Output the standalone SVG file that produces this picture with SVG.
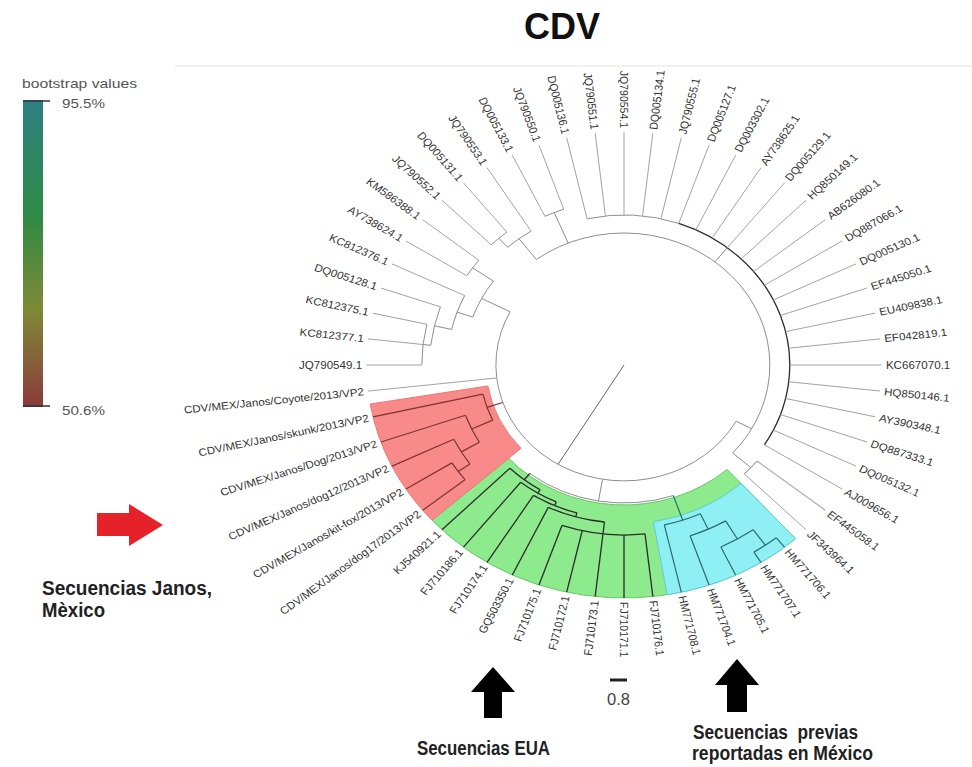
<svg xmlns="http://www.w3.org/2000/svg" width="972" height="767" viewBox="0 0 972 767">
<defs>
<linearGradient id="bs" x1="0" y1="0" x2="0" y2="1">
<stop offset="0" stop-color="#2e7f80"/>
<stop offset="0.38" stop-color="#2f8a45"/>
<stop offset="0.68" stop-color="#7e8a36"/>
<stop offset="1" stop-color="#8c3a3c"/>
</linearGradient>
<style>
.l{fill:none;stroke:#a3a3a3;stroke-width:1;vector-effect:non-scaling-stroke}
.g{stroke:#8e8e8e}
.k{stroke:#2b2b2b;stroke-width:1.3}
.m{stroke:#7b3434;stroke-width:1.2}
.q{stroke:#2d6a6c;stroke-width:1.2}
.t{font-family:"Liberation Sans",Arial,sans-serif;font-size:10.5px;fill:#333}
.e{text-anchor:end}
.b{font-family:"Liberation Sans",Arial,sans-serif;font-weight:bold;fill:#222}
.lg{font-family:"Liberation Sans",Arial,sans-serif;font-size:13px;fill:#555}
</style>
</defs>
<rect width="972" height="767" fill="#fff"/>
<line x1="175" y1="66" x2="972" y2="66" stroke="#ececec" stroke-width="1.5"/>
<g id="title"><text x="524" y="39" style="font-family:'Liberation Sans',Arial,sans-serif;font-weight:bold;font-size:36px;fill:#111">CDV</text></g>

<g id="legend">
<text class="lg" x="22" y="88" textLength="115" lengthAdjust="spacingAndGlyphs">bootstrap values</text>
<rect x="23" y="100" width="20" height="307" fill="url(#bs)"/>
<line x1="23" y1="101" x2="50" y2="101" stroke="#333" stroke-width="1.5"/>
<line x1="23" y1="406" x2="50" y2="406" stroke="#333" stroke-width="1.5"/>
<text class="lg" x="62" y="108" textLength="43" lengthAdjust="spacingAndGlyphs">95.5%</text>
<text class="lg" x="62" y="415" textLength="43" lengthAdjust="spacingAndGlyphs">50.6%</text>
</g>

<g id="tree" transform="translate(624,365) scale(1.105,1)">
<g id="sectors">
<path transform="rotate(48.21)" d="M140 0 L233 0 A233 233 0 0 1 0 233 L0 140 A140 140 0 0 0 140 0 Z" fill="#8deb8d" stroke="#63c963" stroke-width="1" vector-effect="non-scaling-stroke"/>
<path transform="rotate(48.21)" d="M159 0 L233 0 A233 233 0 0 1 197.29 123.96 L134.63 84.59 A159 159 0 0 0 159 0 Z" fill="#8ef0f5" stroke="#5ccbd2" stroke-width="1" vector-effect="non-scaling-stroke"/>
<path transform="rotate(138.21)" d="M125 0 L233 0 A233 233 0 0 1 197.29 123.96 L105.84 66.50 A125 125 0 0 0 125 0 Z" fill="#f88a8a" stroke="#ee7777" stroke-width="1" vector-effect="non-scaling-stroke"/>
</g>
<g id="connectors">
<line class="l" x1="0" x2="116" transform="rotate(121)" style="stroke:#666"/>
<path class="l g" transform="rotate(28.93)" d="M116 0 A116 116 0 0 1 -115.95 3.26"/>
<line class="l g" x1="116" x2="132" transform="rotate(28.93)"/>
<path class="l g" transform="rotate(233.04)" d="M132 0 A132 132 0 0 1 -129.46 25.75"/>
<line class="l g" x1="132" x2="150" transform="rotate(308.57)"/>
<path class="l g" transform="rotate(257.14)" d="M150 0 A150 150 0 0 1 127.01 79.80"/>
<path class="l k" transform="rotate(289.29)" d="M150 0 A150 150 0 0 1 -33.38 146.24"/>
<line class="l g" x1="132" x2="154" transform="rotate(41.79)"/>
<path class="l g" transform="rotate(38.57)" d="M154 0 A154 154 0 0 1 153.03 17.24"/>
<line class="l g" x1="132" x2="165" transform="rotate(247.5)"/>
<path class="l g" transform="rotate(244.29)" d="M165 0 A165 165 0 0 1 163.96 18.47"/>
<line class="l g" x1="132" x2="158" transform="rotate(233.04)"/>
<path class="l g" transform="rotate(228.21)" d="M158 0 A158 158 0 0 1 155.77 26.47"/>
<line class="l g" x1="158" x2="170" transform="rotate(228.21)"/>
<path class="l g" transform="rotate(225)" d="M170 0 A170 170 0 0 1 168.93 19.03"/>
<line class="l g" x1="116" x2="145" transform="rotate(207.32)"/>
<path class="l g" transform="rotate(199.29)" d="M145 0 A145 145 0 0 1 139.33 40.14"/>
<line class="l g" x1="145" x2="168" transform="rotate(215.36)"/>
<path class="l g" transform="rotate(212.14)" d="M168 0 A168 168 0 0 1 166.94 18.81"/>
<line class="l g" x1="145" x2="160" transform="rotate(199.29)"/>
<path class="l g" transform="rotate(192.86)" d="M160 0 A160 160 0 0 1 155.99 35.60"/>
<line class="l g" x1="160" x2="176" transform="rotate(192.86)"/>
<path class="l g" transform="rotate(186.43)" d="M176 0 A176 176 0 0 1 171.59 39.16"/>
<line class="l g" x1="176" x2="183" transform="rotate(186.43)"/>
<path class="l g" transform="rotate(180)" d="M183 0 A183 183 0 0 1 178.41 40.72"/>
<line class="l m" x1="116" x2="131" transform="rotate(161.12)"/>
<path class="l m" transform="rotate(155.09)" d="M131 0 A131 131 0 0 1 128.11 27.35"/>
<line class="l m" x1="131" x2="152" transform="rotate(155.09)"/>
<path class="l m" transform="rotate(149.46)" d="M152 0 A152 152 0 0 1 149.08 29.65"/>
<line class="l m" x1="152" x2="171" transform="rotate(149.46)"/>
<path class="l m" transform="rotate(144.64)" d="M171 0 A171 171 0 0 1 168.58 28.65"/>
<line class="l m" x1="171" x2="184" transform="rotate(144.64)"/>
<path class="l m" transform="rotate(141.43)" d="M184 0 A184 184 0 0 1 182.84 20.60"/>
<line class="l g" x1="116" x2="138" transform="rotate(99.64)"/>
<path class="l g" transform="rotate(71.11)" d="M138 0 A138 138 0 0 1 75.04 115.82"/>
<line class="l q" x1="138" x2="164" transform="rotate(71.11)"/>
<path class="l q" transform="rotate(65.09)" d="M164 0 A164 164 0 0 1 160.39 34.24"/>
<line class="l q" x1="164" x2="181" transform="rotate(65.09)"/>
<path class="l q" transform="rotate(59.46)" d="M181 0 A181 181 0 0 1 177.52 35.31"/>
<line class="l q" x1="181" x2="202" transform="rotate(59.46)"/>
<path class="l q" transform="rotate(54.64)" d="M202 0 A202 202 0 0 1 199.15 33.84"/>
<line class="l q" x1="202" x2="221" transform="rotate(54.64)"/>
<path class="l q" transform="rotate(51.43)" d="M221 0 A221 221 0 0 1 219.61 24.74"/>
<line class="l k" x1="138" x2="146" transform="rotate(128.17)"/>
<path class="l k" transform="rotate(121.34)" d="M146 0 A146 146 0 0 1 141.87 34.48"/>
<line class="l k" x1="146" x2="150" transform="rotate(121.34)"/>
<path class="l k" transform="rotate(114.1)" d="M150 0 A150 150 0 0 1 145.24 37.48"/>
<line class="l k" x1="150" x2="154" transform="rotate(114.1)"/>
<path class="l k" transform="rotate(106.07)" d="M154 0 A154 154 0 0 1 147.98 42.63"/>
<line class="l k" x1="154" x2="158" transform="rotate(106.07)"/>
<path class="l k" transform="rotate(96.43)" d="M158 0 A158 158 0 0 1 149.13 52.18"/>
<line class="l k" x1="158" x2="170" transform="rotate(96.43)"/>
<path class="l k" transform="rotate(83.57)" d="M170 0 A170 170 0 0 1 153.16 73.76"/>
<!-- leaf lines -->
<line class="l" x1="183" x2="233" transform="rotate(180)"/>
<line class="l" x1="183" x2="233" transform="rotate(186.43)"/>
<line class="l" x1="183" x2="233" transform="rotate(192.86)"/>
<line class="l" x1="176" x2="233" transform="rotate(199.29)"/>
<line class="l" x1="160" x2="233" transform="rotate(205.71)"/>
<line class="l" x1="168" x2="233" transform="rotate(212.14)"/>
<line class="l" x1="168" x2="233" transform="rotate(218.57)"/>
<line class="l" x1="170" x2="233" transform="rotate(225)"/>
<line class="l" x1="170" x2="233" transform="rotate(231.43)"/>
<line class="l" x1="158" x2="233" transform="rotate(237.86)"/>
<line class="l" x1="165" x2="233" transform="rotate(244.29)"/>
<line class="l" x1="165" x2="233" transform="rotate(250.71)"/>
<line class="l" x1="150" x2="233" transform="rotate(257.14)"/>
<line class="l" x1="150" x2="233" transform="rotate(263.57)"/>
<line class="l" x1="150" x2="233" transform="rotate(270)"/>
<line class="l" x1="150" x2="233" transform="rotate(276.43)"/>
<line class="l" x1="150" x2="233" transform="rotate(282.86)"/>
<line class="l" x1="150" x2="233" transform="rotate(289.29)"/>
<line class="l" x1="150" x2="233" transform="rotate(295.71)"/>
<line class="l" x1="150" x2="233" transform="rotate(302.14)"/>
<line class="l" x1="150" x2="233" transform="rotate(308.57)"/>
<line class="l" x1="150" x2="233" transform="rotate(315)"/>
<line class="l" x1="150" x2="233" transform="rotate(321.43)"/>
<line class="l" x1="150" x2="233" transform="rotate(327.86)"/>
<line class="l" x1="150" x2="233" transform="rotate(334.29)"/>
<line class="l" x1="150" x2="233" transform="rotate(340.71)"/>
<line class="l" x1="150" x2="233" transform="rotate(347.14)"/>
<line class="l" x1="150" x2="233" transform="rotate(353.57)"/>
<line class="l" x1="150" x2="233" transform="rotate(0)"/>
<line class="l" x1="150" x2="233" transform="rotate(6.43)"/>
<line class="l" x1="150" x2="233" transform="rotate(12.86)"/>
<line class="l" x1="150" x2="233" transform="rotate(19.29)"/>
<line class="l" x1="150" x2="233" transform="rotate(25.71)"/>
<line class="l" x1="150" x2="233" transform="rotate(32.14)"/>
<line class="l" x1="154" x2="233" transform="rotate(38.57)"/>
<line class="l" x1="154" x2="233" transform="rotate(45)"/>
<line class="l q" x1="221" x2="233" transform="rotate(51.43)"/>
<line class="l q" x1="221" x2="233" transform="rotate(57.86)"/>
<line class="l q" x1="202" x2="233" transform="rotate(64.29)"/>
<line class="l q" x1="181" x2="233" transform="rotate(70.71)"/>
<line class="l q" x1="164" x2="233" transform="rotate(77.14)"/>
<line class="l k" x1="170" x2="233" transform="rotate(83.57)"/>
<line class="l k" x1="170" x2="233" transform="rotate(90)"/>
<line class="l k" x1="170" x2="233" transform="rotate(96.43)"/>
<line class="l k" x1="170" x2="233" transform="rotate(102.86)"/>
<line class="l k" x1="170" x2="233" transform="rotate(109.29)"/>
<line class="l k" x1="158" x2="233" transform="rotate(115.71)"/>
<line class="l k" x1="154" x2="233" transform="rotate(122.14)"/>
<line class="l k" x1="150" x2="233" transform="rotate(128.57)"/>
<line class="l k" x1="146" x2="233" transform="rotate(135)"/>
<line class="l m" x1="184" x2="233" transform="rotate(141.43)"/>
<line class="l m" x1="184" x2="233" transform="rotate(147.86)"/>
<line class="l m" x1="171" x2="233" transform="rotate(154.29)"/>
<line class="l m" x1="152" x2="233" transform="rotate(160.71)"/>
<line class="l m" x1="131" x2="233" transform="rotate(167.14)"/>
<line class="l" x1="116" x2="233" transform="rotate(173.57)"/>
</g>
<g id="leaves">
<g id="leaf-1"><text class="t e" dy="0.35em" transform="rotate(180) translate(237 0) rotate(180)">JQ790549.1</text></g>
<g id="leaf-2"><text class="t e" dy="0.35em" transform="rotate(186.43) translate(237 0) rotate(180)">KC812377.1</text></g>
<g id="leaf-3"><text class="t e" dy="0.35em" transform="rotate(192.86) translate(237 0) rotate(180)">KC812375.1</text></g>
<g id="leaf-4"><text class="t e" dy="0.35em" transform="rotate(199.29) translate(237 0) rotate(180)">DQ005128.1</text></g>
<g id="leaf-5"><text class="t e" dy="0.35em" transform="rotate(205.71) translate(237 0) rotate(180)">KC812376.1</text></g>
<g id="leaf-6"><text class="t e" dy="0.35em" transform="rotate(212.14) translate(237 0) rotate(180)">AY738624.1</text></g>
<g id="leaf-7"><text class="t e" dy="0.35em" transform="rotate(218.57) translate(237 0) rotate(180)">KM586388.1</text></g>
<g id="leaf-8"><text class="t e" dy="0.35em" transform="rotate(225) translate(237 0) rotate(180)">JQ790552.1</text></g>
<g id="leaf-9"><text class="t e" dy="0.35em" transform="rotate(231.43) translate(237 0) rotate(180)">DQ005131.1</text></g>
<g id="leaf-10"><text class="t e" dy="0.35em" transform="rotate(237.86) translate(237 0) rotate(180)">JQ790553.1</text></g>
<g id="leaf-11"><text class="t e" dy="0.35em" transform="rotate(244.29) translate(237 0) rotate(180)">DQ005133.1</text></g>
<g id="leaf-12"><text class="t e" dy="0.35em" transform="rotate(250.71) translate(237 0) rotate(180)">JQ790550.1</text></g>
<g id="leaf-13"><text class="t e" dy="0.35em" transform="rotate(257.14) translate(237 0) rotate(180)">DQ005136.1</text></g>
<g id="leaf-14"><text class="t e" dy="0.35em" transform="rotate(263.57) translate(237 0) rotate(180)">JQ790551.1</text></g>
<g id="leaf-15"><text class="t e" dy="0.35em" transform="rotate(270) translate(237 0) rotate(180)">JQ790554.1</text></g>
<g id="leaf-16"><text class="t" dy="0.35em" transform="rotate(276.43) translate(237 0)">DQ005134.1</text></g>
<g id="leaf-17"><text class="t" dy="0.35em" transform="rotate(282.86) translate(237 0)">JQ790555.1</text></g>
<g id="leaf-18"><text class="t" dy="0.35em" transform="rotate(289.29) translate(237 0)">DQ005127.1</text></g>
<g id="leaf-19"><text class="t" dy="0.35em" transform="rotate(295.71) translate(237 0)">DQ003302.1</text></g>
<g id="leaf-20"><text class="t" dy="0.35em" transform="rotate(302.14) translate(237 0)">AY738625.1</text></g>
<g id="leaf-21"><text class="t" dy="0.35em" transform="rotate(308.57) translate(237 0)">DQ005129.1</text></g>
<g id="leaf-22"><text class="t" dy="0.35em" transform="rotate(315) translate(237 0)">HQ850149.1</text></g>
<g id="leaf-23"><text class="t" dy="0.35em" transform="rotate(321.43) translate(237 0)">AB626080.1</text></g>
<g id="leaf-24"><text class="t" dy="0.35em" transform="rotate(327.86) translate(237 0)">DQ887066.1</text></g>
<g id="leaf-25"><text class="t" dy="0.35em" transform="rotate(334.29) translate(237 0)">DQ005130.1</text></g>
<g id="leaf-26"><text class="t" dy="0.35em" transform="rotate(340.71) translate(237 0)">EF445050.1</text></g>
<g id="leaf-27"><text class="t" dy="0.35em" transform="rotate(347.14) translate(237 0)">EU409838.1</text></g>
<g id="leaf-28"><text class="t" dy="0.35em" transform="rotate(353.57) translate(237 0)">EF042819.1</text></g>
<g id="leaf-29"><text class="t" dy="0.35em" transform="rotate(0) translate(237 0)">KC667070.1</text></g>
<g id="leaf-30"><text class="t" dy="0.35em" transform="rotate(6.43) translate(237 0)">HQ850146.1</text></g>
<g id="leaf-31"><text class="t" dy="0.35em" transform="rotate(12.86) translate(237 0)">AY390348.1</text></g>
<g id="leaf-32"><text class="t" dy="0.35em" transform="rotate(19.29) translate(237 0)">DQ887333.1</text></g>
<g id="leaf-33"><text class="t" dy="0.35em" transform="rotate(25.71) translate(237 0)">DQ005132.1</text></g>
<g id="leaf-34"><text class="t" dy="0.35em" transform="rotate(32.14) translate(237 0)">AJ009656.1</text></g>
<g id="leaf-35"><text class="t" dy="0.35em" transform="rotate(38.57) translate(237 0)">EF445058.1</text></g>
<g id="leaf-36"><text class="t" dy="0.35em" transform="rotate(45) translate(237 0)">JF343964.1</text></g>
<g id="leaf-37"><text class="t" dy="0.35em" transform="rotate(51.43) translate(237 0)">HM771706.1</text></g>
<g id="leaf-38"><text class="t" dy="0.35em" transform="rotate(57.86) translate(237 0)">HM771707.1</text></g>
<g id="leaf-39"><text class="t" dy="0.35em" transform="rotate(64.29) translate(237 0)">HM771705.1</text></g>
<g id="leaf-40"><text class="t" dy="0.35em" transform="rotate(70.71) translate(237 0)">HM771704.1</text></g>
<g id="leaf-41"><text class="t" dy="0.35em" transform="rotate(77.14) translate(237 0)">HM771708.1</text></g>
<g id="leaf-42"><text class="t" dy="0.35em" transform="rotate(83.57) translate(237 0)">FJ710176.1</text></g>
<g id="leaf-43"><text class="t" dy="0.35em" transform="rotate(90) translate(237 0)">FJ710171.1</text></g>
<g id="leaf-44"><text class="t e" dy="0.35em" transform="rotate(96.43) translate(237 0) rotate(180)">FJ710173.1</text></g>
<g id="leaf-45"><text class="t e" dy="0.35em" transform="rotate(102.86) translate(237 0) rotate(180)">FJ710172.1</text></g>
<g id="leaf-46"><text class="t e" dy="0.35em" transform="rotate(109.29) translate(237 0) rotate(180)">FJ710175.1</text></g>
<g id="leaf-47"><text class="t e" dy="0.35em" transform="rotate(115.71) translate(237 0) rotate(180)">GQ503350.1</text></g>
<g id="leaf-48"><text class="t e" dy="0.35em" transform="rotate(122.14) translate(237 0) rotate(180)">FJ710174.1</text></g>
<g id="leaf-49"><text class="t e" dy="0.35em" transform="rotate(128.57) translate(237 0) rotate(180)">FJ710186.1</text></g>
<g id="leaf-50"><text class="t e" dy="0.35em" transform="rotate(135) translate(237 0) rotate(180)">KJ540921.1</text></g>
<g id="leaf-51"><text class="t e" dy="0.35em" transform="rotate(141.43) translate(237 0) rotate(180)">CDV/MEX/Janos/dog17/2013/VP2</text></g>
<g id="leaf-52"><text class="t e" dy="0.35em" transform="rotate(147.86) translate(237 0) rotate(180)">CDV/MEX/Janos/kit-fox/2013/VP2</text></g>
<g id="leaf-53"><text class="t e" dy="0.35em" transform="rotate(154.29) translate(237 0) rotate(180)">CDV/MEX/Janos/dog12/2013/VP2</text></g>
<g id="leaf-54"><text class="t e" dy="0.35em" transform="rotate(160.71) translate(237 0) rotate(180)">CDV/MEX/Janos/Dog/2013/VP2</text></g>
<g id="leaf-55"><text class="t e" dy="0.35em" transform="rotate(167.14) translate(237 0) rotate(180)">CDV/MEX/Janos/skunk/2013/VP2</text></g>
<g id="leaf-56"><text class="t e" dy="0.35em" transform="rotate(173.57) translate(237 0) rotate(180)">CDV/MEX/Janos/Coyote/2013/VP2</text></g>
</g>
</g>

<g id="scale">
<line x1="610" y1="680" x2="627" y2="680" stroke="#222" stroke-width="3"/>
<text x="607" y="705" style="font-family:'Liberation Sans',Arial,sans-serif;font-size:17px;fill:#444" textLength="23" lengthAdjust="spacingAndGlyphs">0.8</text>
</g>

<g id="janos-note">
<polygon points="97,513 129,513 129,504 163,525 129,546 129,536 97,536" fill="#e5222a"/>
<text class="b" x="42" y="595" font-size="20" textLength="170" lengthAdjust="spacingAndGlyphs">Secuencias Janos,</text>
<text class="b" x="42" y="617" font-size="20" textLength="63" lengthAdjust="spacingAndGlyphs">Mèxico</text>
</g>
<g id="eua-note">
<polygon points="493,667 515,692 502,692 502,718 484,718 484,692 471,692" fill="#000"/>
<text class="b" x="417" y="755" font-size="20" textLength="133" lengthAdjust="spacingAndGlyphs">Secuencias EUA</text>
</g>
<g id="mexico-note">
<polygon points="737,659 759,685 747,685 747,712 727,712 727,685 715,685" fill="#000"/>
<text class="b" x="693" y="739" font-size="20" textLength="165" lengthAdjust="spacingAndGlyphs" xml:space="preserve">Secuencias  previas</text>
<text class="b" x="692" y="760" font-size="20" textLength="181" lengthAdjust="spacingAndGlyphs">reportadas en México</text>
</g>
</svg>
